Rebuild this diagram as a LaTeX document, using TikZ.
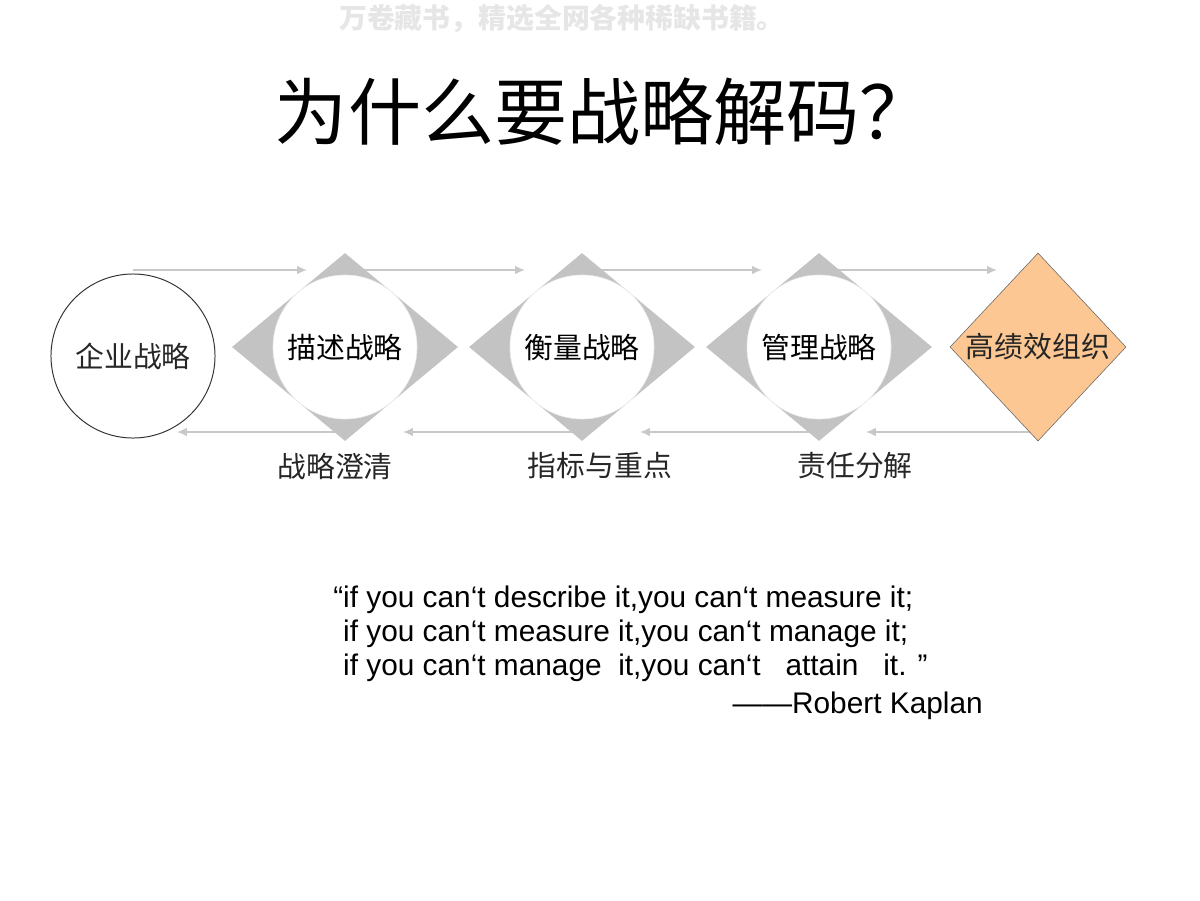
\documentclass[tikz,border=0pt]{standalone}
\usepackage{fontspec}
\setmainfont{Liberation Sans}
\newfontfamily\cjk{Noto Sans CJK SC}
\usetikzlibrary{shapes.geometric,arrows.meta,positioning,backgrounds}

\definecolor{stagegray}{HTML}{C3C3C3}
\definecolor{flowgray}{HTML}{C8C8C8}
\definecolor{goalorange}{HTML}{FCC792}
\definecolor{markgray}{HTML}{E6E6E6}

\tikzset{
  stage/.style={diamond, fill=stagegray, minimum width=5.65cm, minimum height=4.7cm, inner sep=0pt},
  hub/.style={circle, fill=white, draw=white!92!black, minimum size=3.6cm, inner sep=0pt, font=\cjk\fontsize{20.5}{24}\selectfont},
  flow/.style={flowgray, line width=0.9pt, -{Latex[length=7pt,width=6pt]}},
  tag/.style={font=\cjk\fontsize{20.5}{24}\selectfont, text=black!85}
}

\begin{document}
\begin{tikzpicture}[x=0.025cm,y=-0.025cm]
	\useasboundingbox (0,0) rectangle (1200,900);

	\node[font=\cjk\bfseries\fontsize{19.8}{22}\selectfont, text=markgray] (mark) at (562,19) {万卷藏书，精选全网各种稀缺书籍。};
	\node[font=\cjk\fontsize{52}{58}\selectfont] (title) at (604,112) {为什么要战略解码？};

	% the chain
	\node[circle, draw=black!80, line width=0.7pt, minimum size=4.1cm, inner sep=0pt, tag] (qiye) at (133,356) {企业战略};
	\node[stage] (d1) at (345,347) {};
	\node[stage] (d2) at (582,347) {};
	\node[stage] (d3) at (819,347) {};
	\node[hub] (miaoshu) at (d1) {描述战略};
	\node[hub] (hengliang) at (d2) {衡量战略};
	\node[hub] (guanli) at (d3) {管理战略};
	\node[diamond, draw=black!60, fill=goalorange, minimum width=4.4cm, minimum height=4.7cm, inner sep=0pt, tag] (zuzhi) at (1038,347) {高绩效组织};

	\coordinate (top) at (0,270);
	\coordinate (bot) at (0,432);
	\coordinate (t1) at (307,270);
	\coordinate (t2) at (525,270);
	\coordinate (t3) at (762,270);
	\coordinate (t4) at (997,270);
	\coordinate (b1) at (177,432);
	\coordinate (b2) at (403,432);
	\coordinate (b3) at (640,432);
	\coordinate (b4) at (866,432);

	\begin{scope}[on background layer]
		\draw[flow] (qiye |- top) -- (t1);
		\draw[flow] (d1 |- top) -- (t2);
		\draw[flow] (d2 |- top) -- (t3);
		\draw[flow] (d3 |- top) -- (t4);
		\draw[flow] (d1 |- bot) -- (b1);
		\draw[flow] (d2 |- bot) -- (b2);
		\draw[flow] (d3 |- bot) -- (b3);
		\draw[flow] (zuzhi |- bot) -- (b4);
	\end{scope}

	\node[tag] (chengqing) at (335,466) {战略澄清};
	\node[tag] (zhibiao) at (600,466) {指标与重点};
	\node[tag] (zeren) at (855,466) {责任分解};

	% quote
	\node[anchor=north west, align=left, inner sep=0pt, font=\fontsize{21.2}{24.2}\selectfont] (quote) at (333,586)
		{“if you can‘t describe it,you can‘t measure it;\\
		 \hphantom{“}if you can‘t measure it,you can‘t manage it;\\
		 \hphantom{“}if you can‘t manage\ \ it,you can‘t\ \ \ attain\ \ \ it. ”};
	\node[anchor=east, inner sep=0pt, font=\fontsize{21.2}{24}\selectfont] (kaplan) at (983,706) {——Robert Kaplan};
\end{tikzpicture}
\end{document}
